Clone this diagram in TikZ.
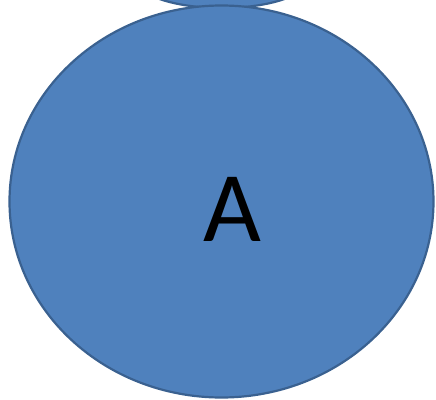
\documentclass[tikz,border=0pt]{standalone}
\usepackage{fontspec}
\setmainfont{Carlito}
\usepackage{xcolor}
\usepackage{tikz}
\usetikzlibrary{shapes.geometric,positioning}
\definecolor{blobfill}{HTML}{4F81BD}
\definecolor{blobline}{HTML}{3A6190}

\begin{document}
\begin{tikzpicture}[x=1pt,y=-1pt,
  blob/.style={ellipse,draw=blobline,fill=blobfill,line width=2.2pt,inner sep=0pt}]
\useasboundingbox (0,0) rectangle (436,399);
\clip (0,0) rectangle (436,399);
\node[blob,minimum width=175pt,minimum height=60pt] (top) at (222,-22) {};
\node[blob,minimum width=424pt,minimum height=392pt] (circA) at (221.5,201.5) {};
\node[font=\fontsize{100}{100}\selectfont] (labA) at (232,209) {A};
\end{tikzpicture}
\end{document}
